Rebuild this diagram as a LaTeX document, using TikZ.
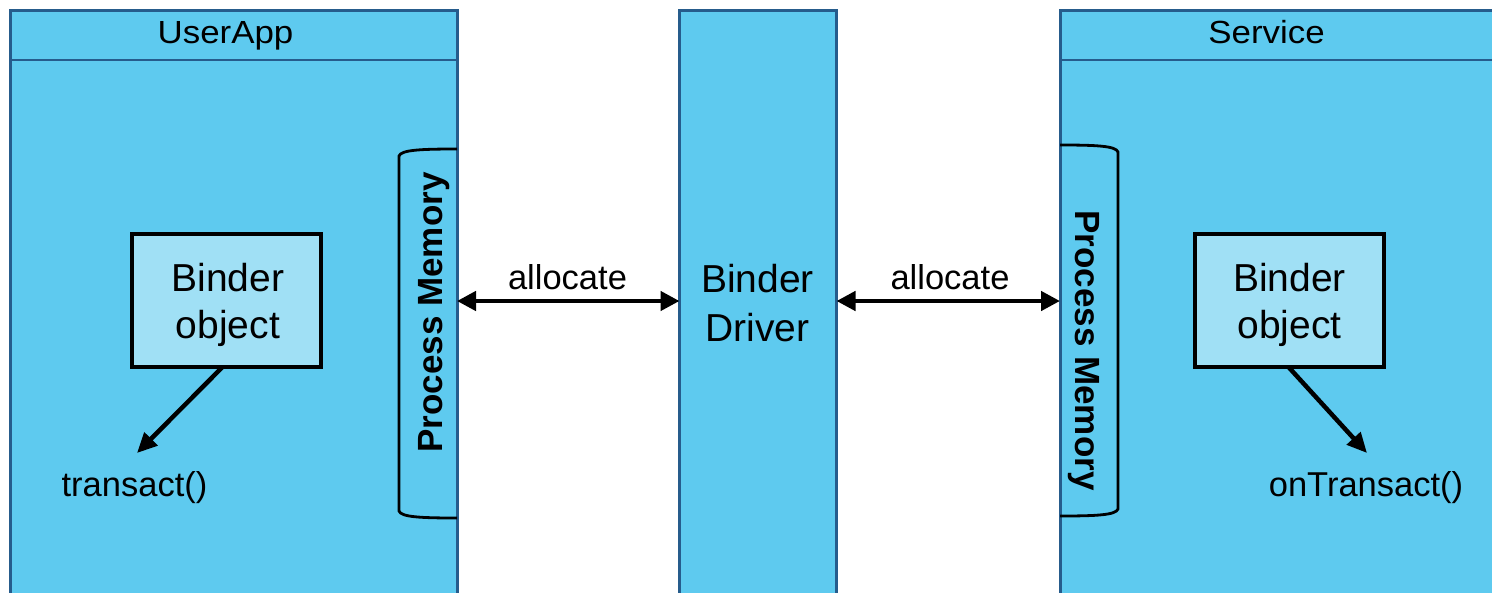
\documentclass[tikz,border=0pt]{standalone}
\usepackage{fontspec}
\setmainfont{Liberation Sans}
\usetikzlibrary{arrows.meta}
\definecolor{panel}{RGB}{94,202,239}
\definecolor{panelline}{RGB}{38,92,140}
\definecolor{objfill}{RGB}{160,224,245}
\tikzset{
  panelbox/.style={fill=panel, draw=panelline, line width=3pt, inner sep=0pt, outer sep=0pt, anchor=north west},
  objbox/.style={fill=objfill, draw=black, line width=3.5pt, inner sep=0pt, outer sep=0pt, minimum width=189pt, minimum height=133pt},
  lbl/.style={inner sep=0pt, anchor=base, font=\fontsize{34.5}{40}\selectfont},
  ttl/.style={inner sep=0pt, anchor=base, font=\fontsize{32}{36}\selectfont},
  big/.style={inner sep=0pt, anchor=base, font=\fontsize{39}{48}\selectfont},
  memlbl/.style={inner sep=0pt, anchor=base, font=\fontsize{35}{40}\selectfont\bfseries},
  bracket/.style={draw=black, line width=2.8pt},
  link/.style={line width=4.5pt, -{Triangle[length=20pt,width=18pt]}},
  both/.style={line width=4.5pt, {Triangle[length=19pt,width=19pt]}-{Triangle[length=19pt,width=19pt]}},
}
\begin{document}
\begin{tikzpicture}[x=1pt,y=-1pt]
\clip (0,0) rectangle (1492,592);

% three process columns
\node[panelbox, minimum width=447pt, minimum height=640pt] (user) at (10,10) {};
\node[panelbox, minimum width=157pt, minimum height=640pt] (driver) at (679.5,10) {};
\node[panelbox, minimum width=500pt, minimum height=640pt] (service) at (1060,10) {};

% title bands
\draw[panelline, line width=2.5pt] ([yshift=-50pt]user.north west) -- ([yshift=-50pt]user.north east);
\draw[panelline, line width=2.5pt] ([yshift=-50pt]service.north west) -- ([yshift=-50pt]service.north east);
\node[ttl] (userTitle) at (225.5,43) {\scalebox{1.09}[1]{UserApp}};
\node[ttl] (serviceTitle) at (1266.5,43) {\scalebox{1.09}[1]{Service}};

% process memory brackets
\draw[bracket] (457,149) .. controls (420,149) and (401,150) .. (399,156)
  -- (399,511) .. controls (401,517) and (420,518) .. (457,518);
\draw[bracket] (1060,145) .. controls (1097,145) and (1116,146) .. (1118,152)
  -- (1118,509) .. controls (1116,515) and (1097,516) .. (1060,516);
\node[memlbl, rotate=90] (memL) at (442,312.5) {Process Memory};
\node[memlbl, rotate=-90] (memR) at (1075,350.5) {Process Memory};
\coordinate (memLedge) at (457,301);
\coordinate (memRedge) at (1060,301);

% binder objects
\node[objbox, anchor=north west] (objL) at (132,234) {};
\node[objbox, anchor=north west] (objR) at (1195,234) {};
\node[big] (objLa) at (228,291) {Binder};
\node[big] (objLb) at (228,338) {object};
\node[big] (objRa) at (1289.5,291) {Binder};
\node[big] (objRb) at (1289.5,338) {object};

% driver label
\node[big] (drvA) at (757.5,292) {Binder};
\node[big] (drvB) at (757.5,341) {Driver};
\coordinate (drvL) at (679.5,301);
\coordinate (drvR) at (836.5,301);

% allocation arrows
\draw[both] (memLedge) -- (drvL);
\draw[both] (drvR) -- (memRedge);
\node[lbl] (allocL) at (567.5,289) {allocate};
\node[lbl] (allocR) at (950,289) {allocate};

% method calls
\node[lbl] (transact) at (134.5,496) {transact()};
\node[lbl] (onTransact) at (1366,496) {onTransact()};
\coordinate (tipL) at (137,453);
\coordinate (tipR) at (1367,453);
\draw[link] ([xshift=-4pt]objL.south) -- (tipL);
\draw[link] ([xshift=-1pt]objR.south) -- (tipR);
\end{tikzpicture}
\end{document}
